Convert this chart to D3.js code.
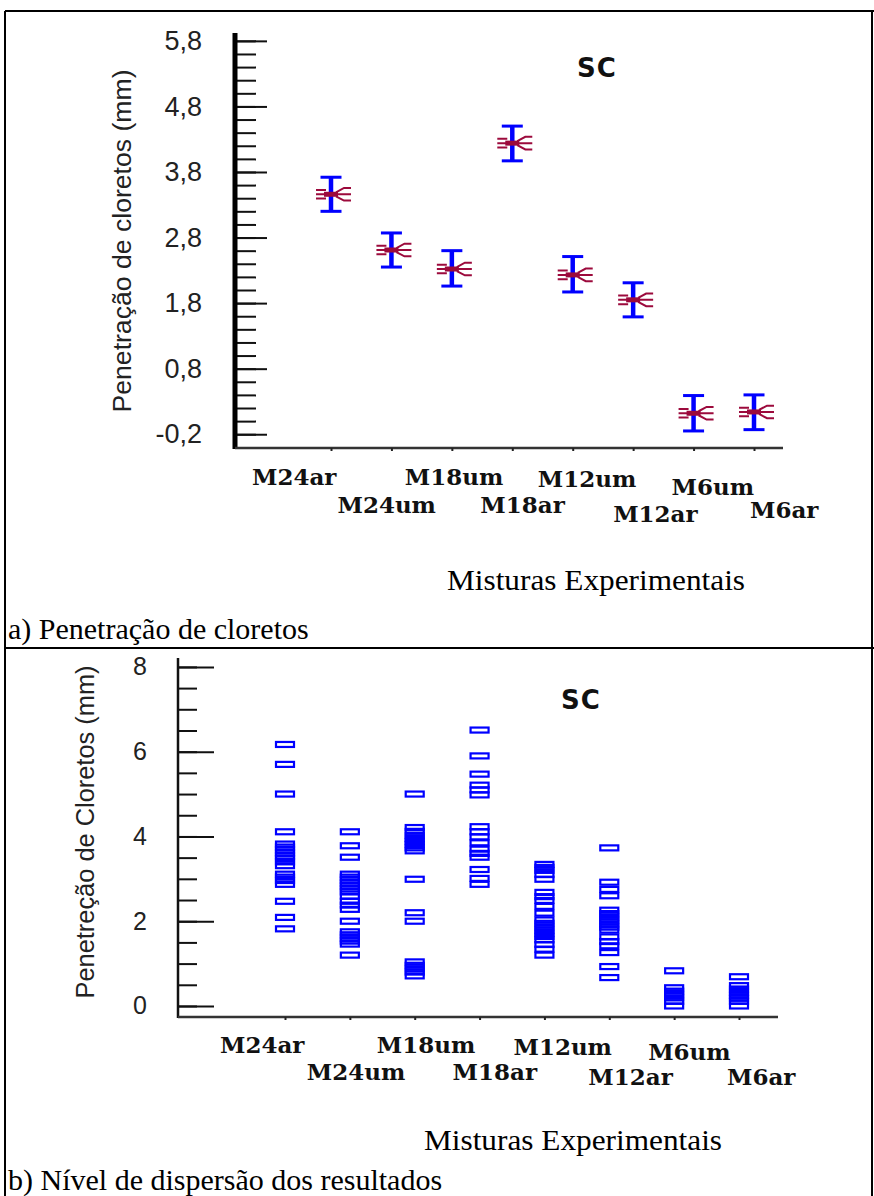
<!DOCTYPE html>
<html>
<head>
<meta charset="utf-8">
<script src="https://cdn.jsdelivr.net/npm/d3@7"></script>
<style>
  html, body { margin: 0; padding: 0; background: #fff; }
  svg { display: block; }
</style>
</head>
<body>
<script>
// Mixtures on the horizontal axis (same order in both panels)
const categories = ["M24ar", "M24um", "M18um", "M18ar", "M12um", "M12ar", "M6um", "M6ar"];

// Panel a) mean chloride penetration (mm) with interval limits
const meanValues  = [3.46, 2.61, 2.32, 4.24, 2.23, 1.85, 0.12, 0.14];
const lowerLimits = [3.20, 2.35, 2.06, 3.97, 1.97, 1.59, -0.15, -0.13];
const upperLimits = [3.72, 2.87, 2.60, 4.50, 2.51, 2.11, 0.39, 0.40];

// Panel b) individual chloride penetration readings (mm)
const obsM24ar = [6.17, 5.70, 5.00, 4.11, 3.82, 3.75, 3.68, 3.61, 3.54, 3.48, 3.40, 3.31, 3.11, 3.04, 2.96, 2.87, 2.47, 2.09, 1.82];
const obsM24um = [4.11, 3.78, 3.51, 3.11, 3.04, 2.97, 2.90, 2.83, 2.76, 2.69, 2.59, 2.47, 2.38, 2.28, 2.00, 1.75, 1.68, 1.60, 1.53, 1.46, 1.20];
const obsM18um = [5.00, 4.21, 4.12, 4.03, 3.95, 3.88, 3.81, 3.73, 3.66, 2.99, 2.20, 2.00, 1.04, 0.96, 0.88, 0.80, 0.71];
const obsM18ar = [6.51, 5.90, 5.47, 5.21, 5.10, 4.98, 4.23, 4.11, 3.99, 3.85, 3.70, 3.60, 3.51, 3.22, 3.01, 2.87];
const obsM12um = [3.34, 3.27, 3.20, 3.10, 2.99, 2.68, 2.58, 2.49, 2.35, 2.19, 2.03, 1.95, 1.87, 1.79, 1.71, 1.64, 1.56, 1.45, 1.34, 1.20];
const obsM12ar = [3.73, 2.92, 2.75, 2.60, 2.26, 2.18, 2.10, 2.02, 1.94, 1.86, 1.79, 1.63, 1.52, 1.42, 1.26, 0.93, 0.67];
const obsM6um  = [0.83, 0.43, 0.35, 0.27, 0.19, 0.11, 0.00];
const obsM6ar  = [0.69, 0.48, 0.40, 0.32, 0.25, 0.18, 0.11, 0.00];
const observations = [obsM24ar, obsM24um, obsM18um, obsM18ar, obsM12um, obsM12ar, obsM6um, obsM6ar];

// Tick values
const topMajorTicks = d3.range(0, 7).map(i => +(-0.2 + i).toFixed(1));
const topMinorTicks = d3.range(0, 31).map(i => +(-0.2 + i * 0.2).toFixed(1));
const bottomMajorTicks = [0, 2, 4, 6, 8];
const bottomMinorTicks = d3.range(0, 17).map(i => i * 0.5);

// Staggered category-label placement (dx from tick, baseline)
const topLabelLayout = [[-79, 485], [-54, 513], [-47, 485], [-32, 513], [-35, 487], [-20, 522], [-22, 495], [-4, 518]];
const bottomLabelLayout = [[-65, 1053], [-43, 1080], [-38, 1053], [-27, 1080], [-31, 1055], [-21, 1085], [-26, 1060], [-12, 1085]];

const W = 874, H = 1196;
const BLUE = "#0000ff";
const MAROON = "#9c0a3c";
// decimal comma, plain hyphen for negatives
const commaFmt = v => d3.format(".1f")(v).replace(".", ",").replace("\u2212", "-");

const svg = d3.select("body").append("svg").attr("width", W).attr("height", H);

// ---------- page frame ----------
const frame = svg.append("g").attr("stroke", "#000").attr("stroke-width", 2);
frame.append("line").attr("x1", 5).attr("x2", W).attr("y1", 11).attr("y2", 11);
frame.append("line").attr("x1", 5).attr("x2", 5).attr("y1", 11).attr("y2", H);
frame.append("line").attr("x1", 872).attr("x2", 872).attr("y1", 11).attr("y2", H);
frame.append("line").attr("x1", 5).attr("x2", W).attr("y1", 648).attr("y2", 648);

const serif = "'Liberation Serif', 'Times New Roman', serif";
const sans = "'Liberation Sans', Arial, sans-serif";
const labelSerif = "'DejaVu Serif', serif";

// ---------- panel a ----------
const xA = d3.scalePoint().domain(categories).range([331, 754]);
const yA = d3.scaleLinear().domain([-0.41, 5.92]).range([448, 33]);
const axisXA = 235;

const gA = svg.append("g");

// minor ticks
gA.append("g")
  .attr("transform", `translate(${axisXA},0)`)
  .call(d3.axisLeft(yA).tickValues(topMinorTicks).tickSize(-21).tickFormat(""))
  .call(g => g.select(".domain").remove())
  .call(g => g.selectAll(".tick line").attr("stroke", "#111").attr("stroke-width", 2));

// major ticks with labels
gA.append("g")
  .attr("transform", `translate(${axisXA},0)`)
  .call(d3.axisLeft(yA).tickValues(topMajorTicks).tickSize(-32).tickPadding(33).tickFormat(commaFmt))
  .call(g => g.select(".domain").remove())
  .call(g => g.selectAll(".tick line").attr("stroke", "#111").attr("stroke-width", 2))
  .call(g => g.selectAll(".tick text")
    .attr("font-family", sans).attr("font-size", 27).attr("fill", "#222"));

// thick vertical axis line
gA.append("line")
  .attr("x1", axisXA).attr("x2", axisXA)
  .attr("y1", yA(5.92)).attr("y2", yA(-0.41) + 1)
  .attr("stroke", "#000").attr("stroke-width", 5);

// horizontal axis
gA.append("g")
  .attr("transform", `translate(0,${yA(-0.41)})`)
  .call(d3.axisBottom(xA).tickSize(3).tickFormat(""))
  .call(g => g.select(".domain").attr("d", `M${axisXA},0H783`).attr("stroke", "#333").attr("stroke-width", 2.5))
  .call(g => g.selectAll(".tick line").attr("stroke", "#222").attr("stroke-width", 2));

// y title
gA.append("text")
  .attr("transform", `translate(131,241) rotate(-90)`)
  .attr("text-anchor", "middle")
  .attr("font-family", sans).attr("font-size", 26).attr("fill", "#222")
  .attr("textLength", 343).attr("lengthAdjust", "spacingAndGlyphs")
  .text("Penetração de cloretos (mm)");

// panel title
gA.append("text")
  .attr("x", 597).attr("y", 77).attr("text-anchor", "middle")
  .attr("font-family", "'DejaVu Sans', Verdana, sans-serif").attr("font-weight", "bold")
  .attr("font-size", 26).attr("letter-spacing", 1).attr("fill", "#111")
  .text("SC");

// interval bars
const bars = gA.append("g").attr("stroke", BLUE);
categories.forEach((c, i) => {
  const x = xA(c);
  const y0 = yA(upperLimits[i]), y1 = yA(lowerLimits[i]);
  bars.append("line").attr("x1", x).attr("x2", x).attr("y1", y0).attr("y2", y1).attr("stroke-width", 4.5);
  bars.append("line").attr("x1", x - 10.5).attr("x2", x + 10.5).attr("y1", y0).attr("y2", y0).attr("stroke-width", 3);
  bars.append("line").attr("x1", x - 10.5).attr("x2", x + 10.5).attr("y1", y1).attr("y2", y1).attr("stroke-width", 3);
});

// mean markers
const marks = gA.append("g");
categories.forEach((c, i) => {
  const cx = xA(c), cy = yA(meanValues[i]);
  marks.append("rect")
    .attr("x", cx - 7).attr("y", cy - 2.5).attr("width", 14).attr("height", 5)
    .attr("fill", MAROON);
  const d = [
    `M${cx - 15},${cy - 4.3}H${cx - 5}`,
    `M${cx - 15},${cy}H${cx - 5}`,
    `M${cx - 15},${cy + 4.3}H${cx - 5}`,
    `M${cx + 5},${cy - 2}L${cx + 13},${cy - 6.3}H${cx + 20}`,
    `M${cx + 5},${cy}H${cx + 20}`,
    `M${cx + 5},${cy + 2}L${cx + 13},${cy + 6.3}H${cx + 20}`
  ].join("");
  marks.append("path").attr("d", d).attr("fill", "none")
    .attr("stroke", MAROON).attr("stroke-width", 2);
});

// category labels
gA.append("g").selectAll("text").data(categories).join("text")
  .attr("x", (d, i) => xA(d) + topLabelLayout[i][0])
  .attr("y", (d, i) => topLabelLayout[i][1])
  .attr("font-family", labelSerif).attr("font-weight", "bold")
  .attr("font-size", 23).attr("fill", "#111")
  .text(d => d);

svg.append("text").attr("x", 447).attr("y", 590)
  .attr("font-family", serif).attr("font-size", 30).attr("fill", "#000")
  .attr("textLength", 298).attr("lengthAdjust", "spacingAndGlyphs")
  .text("Misturas Experimentais");
svg.append("text").attr("x", 8).attr("y", 639)
  .attr("font-family", serif).attr("font-size", 30).attr("fill", "#000")
  .text("a) Penetração de cloretos");

// ---------- panel b ----------
const xB = d3.scalePoint().domain(categories).range([285, 739]);
const yB = d3.scaleLinear().domain([-0.26, 8.21]).range([1017, 658]);
const axisXB = 178;

const gB = svg.append("g");

gB.append("g")
  .attr("transform", `translate(${axisXB},0)`)
  .call(d3.axisLeft(yB).tickValues(bottomMinorTicks).tickSize(-19).tickFormat(""))
  .call(g => g.select(".domain").remove())
  .call(g => g.selectAll(".tick line").attr("stroke", "#111").attr("stroke-width", 2));

gB.append("g")
  .attr("transform", `translate(${axisXB},0)`)
  .call(d3.axisLeft(yB).tickValues(bottomMajorTicks).tickSize(-36).tickPadding(31).tickFormat(d3.format("d")))
  .call(g => g.select(".domain").remove())
  .call(g => g.selectAll(".tick line").attr("stroke", "#111").attr("stroke-width", 2))
  .call(g => g.selectAll(".tick text")
    .attr("font-family", sans).attr("font-size", 25).attr("fill", "#222"));

gB.append("line")
  .attr("x1", axisXB).attr("x2", axisXB)
  .attr("y1", yB(8.21)).attr("y2", yB(-0.26) + 1)
  .attr("stroke", "#111").attr("stroke-width", 2.5);

gB.append("g")
  .attr("transform", `translate(0,${yB(-0.26)})`)
  .call(d3.axisBottom(xB).tickSize(3).tickFormat(""))
  .call(g => g.select(".domain").attr("d", `M${axisXB},0H778`).attr("stroke", "#333").attr("stroke-width", 2.5))
  .call(g => g.selectAll(".tick line").attr("stroke", "#222").attr("stroke-width", 2));

gB.append("text")
  .attr("transform", `translate(94,832) rotate(-90)`)
  .attr("text-anchor", "middle")
  .attr("font-family", sans).attr("font-size", 26).attr("fill", "#222")
  .attr("textLength", 333).attr("lengthAdjust", "spacingAndGlyphs")
  .text("Penetreção de Cloretos (mm)");

gB.append("text")
  .attr("x", 581).attr("y", 709).attr("text-anchor", "middle")
  .attr("font-family", "'DejaVu Sans', Verdana, sans-serif").attr("font-weight", "bold")
  .attr("font-size", 26).attr("letter-spacing", 1).attr("fill", "#111")
  .text("SC");

// one outlined box per reading
const boxes = gB.append("g").attr("fill", "none").attr("stroke", BLUE).attr("stroke-width", 2.2);
categories.forEach((c, i) => {
  boxes.selectAll(null).data(observations[i]).join("rect")
    .attr("x", xB(c) - 9).attr("y", v => yB(v) - 2.5)
    .attr("width", 18).attr("height", 5);
});

gB.append("g").selectAll("text").data(categories).join("text")
  .attr("x", (d, i) => xB(d) + bottomLabelLayout[i][0])
  .attr("y", (d, i) => bottomLabelLayout[i][1])
  .attr("font-family", labelSerif).attr("font-weight", "bold")
  .attr("font-size", 23).attr("fill", "#111")
  .text(d => d);

svg.append("text").attr("x", 424).attr("y", 1150)
  .attr("font-family", serif).attr("font-size", 30).attr("fill", "#000")
  .attr("textLength", 298).attr("lengthAdjust", "spacingAndGlyphs")
  .text("Misturas Experimentais");
svg.append("text").attr("x", 8).attr("y", 1190)
  .attr("font-family", serif).attr("font-size", 30).attr("fill", "#000")
  .text("b) Nível de dispersão dos resultados");
</script>
</body>
</html>
